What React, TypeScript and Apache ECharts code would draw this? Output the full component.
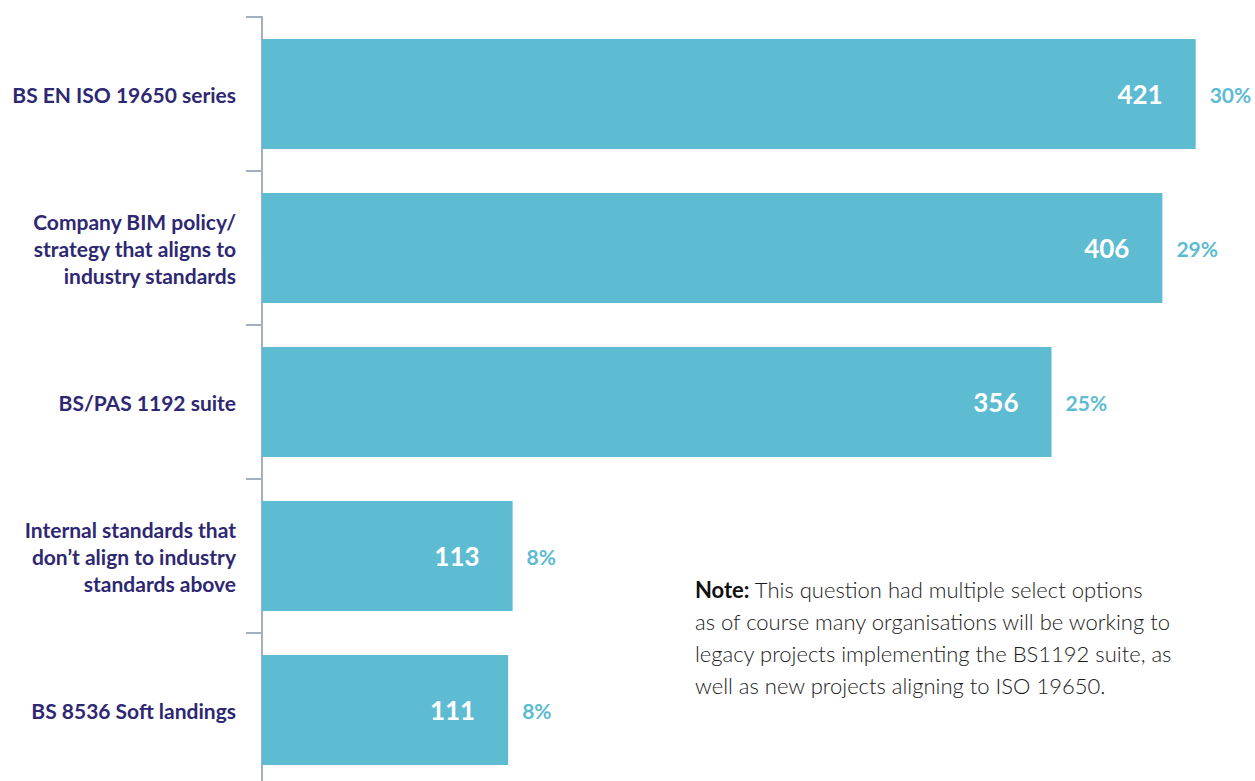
import React, { useEffect, useRef } from "react";
import * as echarts from "echarts";

const categories = [
  "BS EN ISO 19650 series",
  "Company BIM policy/\nstrategy that aligns to\nindustry standards",
  "BS/PAS 1192 suite",
  "Internal standards that\ndon’t align to industry\nstandards above",
  "BS 8536 Soft landings",
];
const counts = [421, 406, 356, 113, 111];
const percents = ["30%", "29%", "25%", "8%", "8%"];
const noteLines = [
  "This question had multiple select options",
  "as of course many organisations will be working to",
  "legacy projects implementing the BS1192 suite, as",
  "well as new projects aligning to ISO 19650.",
];

const BAR = "#5dbbd2";
const NAVY = "#2e2872";
const FONT = "Lato, 'Open Sans', sans-serif";

export default function App() {
  const ref = useRef<HTMLDivElement>(null);
  useEffect(() => {
    if (!ref.current) return;
    const chart = echarts.init(ref.current, undefined, { renderer: "svg" });
    chart.setOption({
      animation: false,
      textStyle: { fontFamily: FONT },
      grid: { left: 262, top: 17, width: 998, height: 770, containLabel: false },
      xAxis: { type: "value", min: 0, max: 450, show: false },
      yAxis: {
        type: "category",
        data: categories,
        inverse: true,
        axisLine: { show: true, lineStyle: { color: "#a3afba", width: 2 } },
        axisTick: { show: true, length: 16, lineStyle: { color: "#a3afba", width: 2 } },
        axisLabel: {
          color: NAVY,
          fontFamily: FONT,
          fontWeight: "bold",
          fontSize: 21,
          lineHeight: 27,
          margin: 26,
          align: "right",
          padding: [7, 0, 0, 0],
        },
      },
      series: [
        {
          type: "bar",
          data: counts,
          barWidth: 110,
          itemStyle: { color: BAR },
          label: {
            show: true,
            position: "insideRight",
            distance: 33,
            color: "#ffffff",
            fontFamily: FONT,
            fontWeight: "bold",
            fontSize: 26,
          },
          z: 2,
        },
        {
          type: "bar",
          data: counts,
          barWidth: 110,
          barGap: "-100%",
          itemStyle: { color: "rgba(0,0,0,0)" },
          label: {
            show: true,
            position: "right",
            distance: 14,
            color: BAR,
            fontFamily: FONT,
            fontWeight: "bold",
            fontSize: 21,
            formatter: (p: any) => percents[p.dataIndex],
          },
          z: 3,
        },
      ],
      graphic: [
        {
          type: "text",
          left: 695,
          top: 573,
          style: {
            text: "{b|Note:} " + noteLines.join("\n"),
            rich: {
              b: { fontWeight: "bold", fontSize: 22, fontFamily: FONT, fill: "#111", lineHeight: 32 },
            },
            fontFamily: FONT,
            fontSize: 22,
            fontWeight: 300,
            lineHeight: 32,
            fill: "#1a1a1a",
          },
        },
      ],
    });
    return () => chart.dispose();
  }, []);
  return (
    <div style={{ position: "absolute", left: 0, top: 0, width: 1255, height: 781, overflow: "hidden" }}>
      <div ref={ref} style={{ width: 1300, height: 820 }} />
    </div>
  );
}
